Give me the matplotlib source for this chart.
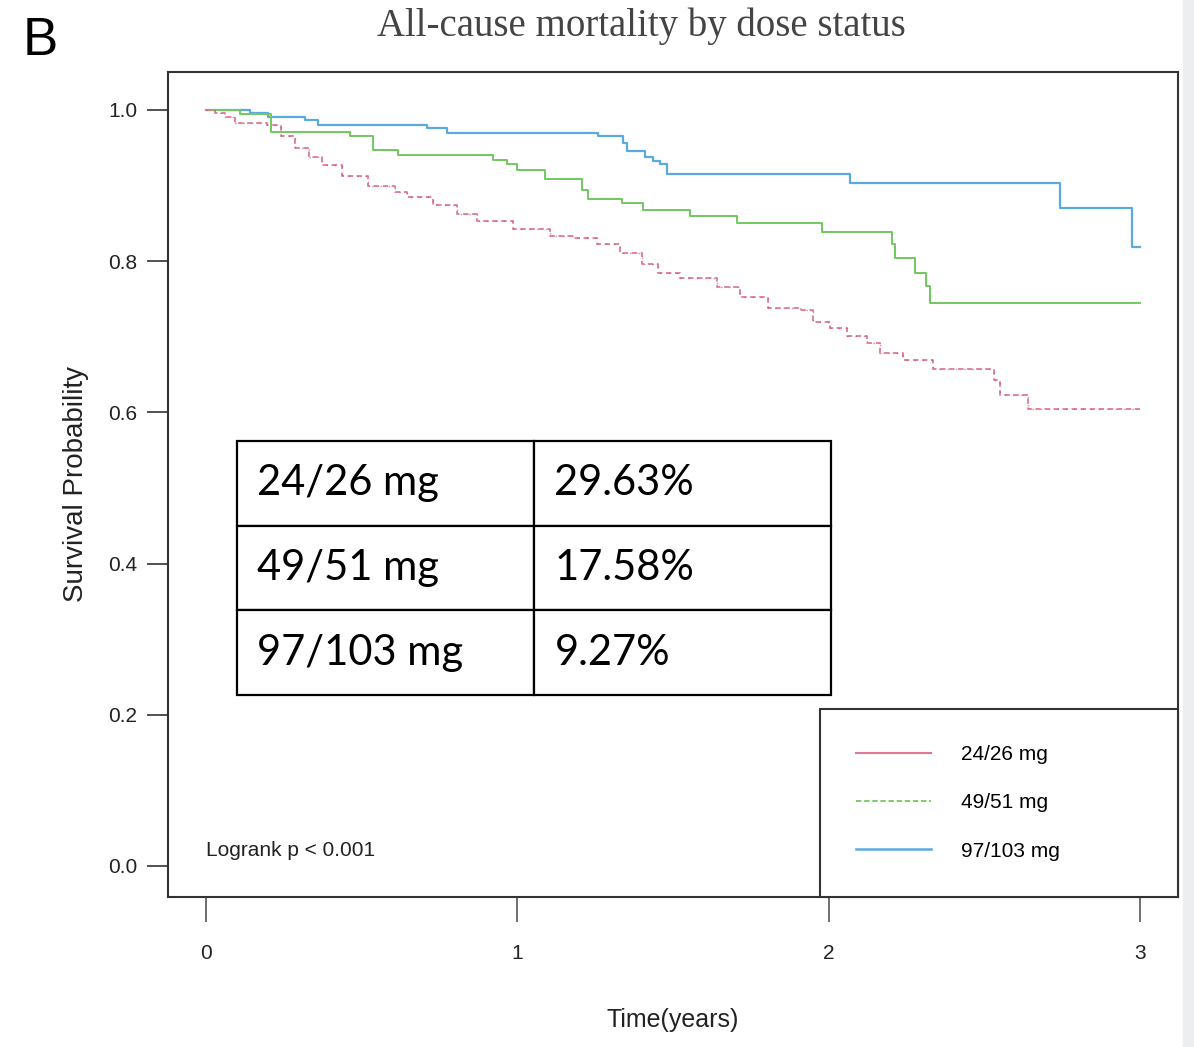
import matplotlib.pyplot as plt
from matplotlib.lines import Line2D
from matplotlib.patches import Rectangle

plt.rcParams['font.family'] = ['Liberation Sans', 'DejaVu Sans']

# Kaplan-Meier step points (time in years, survival)
t_low = [0, 0.03, 0.06, 0.093, 0.196, 0.24, 0.286, 0.33, 0.373, 0.437, 0.52, 0.607,
         0.646, 0.729, 0.806, 0.871, 0.986, 1.05, 1.105, 1.179, 1.256, 1.33,
         1.401, 1.452, 1.523, 1.642, 1.715, 1.805, 1.908, 1.95, 2.004, 2.059,
         2.123, 2.165, 2.239, 2.335, 2.531, 2.551, 2.641, 3.0]
s_low = [1.0, 0.996, 0.99, 0.983, 0.98, 0.965, 0.95, 0.938, 0.927, 0.913, 0.899, 0.892,
         0.885, 0.874, 0.862, 0.853, 0.843, 0.842, 0.833, 0.831, 0.822, 0.811,
         0.796, 0.784, 0.778, 0.766, 0.752, 0.738, 0.735, 0.72, 0.711, 0.701,
         0.691, 0.679, 0.669, 0.657, 0.643, 0.623, 0.604, 0.604]

t_mid = [0, 0.109, 0.209, 0.463, 0.537, 0.617, 0.922, 0.967, 0.999, 1.089, 1.208,
         1.227, 1.336, 1.404, 1.555, 1.706, 1.979, 2.204, 2.213, 2.278, 2.313,
         2.326, 3.0]
s_mid = [1.0, 0.994, 0.971, 0.965, 0.947, 0.94, 0.934, 0.928, 0.921, 0.909, 0.894,
         0.882, 0.877, 0.868, 0.86, 0.85, 0.839, 0.822, 0.804, 0.784, 0.767,
         0.745, 0.745]

t_high = [0, 0.141, 0.199, 0.318, 0.36, 0.709, 0.774, 1.259, 1.34, 1.353, 1.41,
          1.436, 1.458, 1.48, 2.068, 2.743, 2.974, 3.0]
s_high = [1.0, 0.996, 0.99, 0.987, 0.98, 0.976, 0.97, 0.965, 0.956, 0.946, 0.938,
          0.933, 0.929, 0.915, 0.903, 0.87, 0.819, 0.819]

labels = ['24/26 mg', '49/51 mg', '97/103 mg']
mortality = ['29.63%', '17.58%', '9.27%']
colors = ['#e07a92', '#72c85e', '#5aa9df']

fig = plt.figure(figsize=(11.94, 10.47), dpi=100)
fig.patches.append(Rectangle((0.991, 0), 0.009, 1, transform=fig.transFigure,
                             color='#eceef0', zorder=0))
ax = fig.add_axes([0.1407, 0.1433, 0.8459, 0.7879])

ax.plot(t_high, s_high, drawstyle='steps-post', color=colors[2], lw=1.6)
ax.plot(t_mid, s_mid, drawstyle='steps-post', color=colors[1], lw=1.4)
ax.plot(t_low, s_low, drawstyle='steps-post', color=colors[0], lw=1.3,
        linestyle=(0, (3, 2)))
ax.plot(t_low, s_low, drawstyle='steps-post', color='#9a5a6a', lw=1.0,
        linestyle=(0, (1, 5)), alpha=0.6)

ax.set_xlim(-0.122, 3.122)
ax.set_ylim(-0.041, 1.05)
ax.set_xticks([0, 1, 2, 3])
ax.set_yticks([0.0, 0.2, 0.4, 0.6, 0.8, 1.0])
ax.set_yticklabels(['0.0', '0.2', '0.4', '0.6', '0.8', '1.0'])
ax.tick_params(axis='y', length=15, width=1.2, color='#333333', pad=7,
               labelsize=15, labelcolor='#222222')
ax.tick_params(axis='x', length=18, width=1.2, color='#555555', pad=16,
               labelsize=15, labelcolor='#222222')
for s in ax.spines.values():
    s.set_linewidth(1.5)
    s.set_color('#333333')

ax.set_xlabel('Time(years)', fontsize=18, color='#222222', labelpad=32)
ax.set_ylabel('Survival Probability', fontsize=20, color='#222222', labelpad=14)

ax.text(0.0, 0.02, 'Logrank p < 0.001', fontsize=15, color='#222222',
        va='center', ha='left')

# result table
tbl = ax.table(cellText=[[labels[i], mortality[i]] for i in range(3)],
               cellLoc='left', bbox=[0.068, 0.2448, 0.5881, 0.3079])
tbl.auto_set_font_size(False)
for (r, c), cell in tbl.get_celld().items():
    cell.set_linewidth(1.6)
    cell.set_edgecolor('black')
    cell.PAD = 0.07
    cell.get_text().set_fontsize(30)
    cell.get_text().set_fontfamily('Lato')

handles = [Line2D([], [], color=colors[0], lw=1.5),
           Line2D([], [], color=colors[1], lw=1.3, linestyle=(0, (3, 1.5))),
           Line2D([], [], color=colors[2], lw=1.8)]
leg = ax.legend(handles, labels, loc='lower left', mode='expand',
                bbox_to_anchor=(0.6455, 0, 0.3545, 0.2303), borderaxespad=0,
                fancybox=False, edgecolor='#333333', framealpha=1, fontsize=15,
                handlelength=3.6, handletextpad=1.4, labelspacing=1.4,
                borderpad=1.75)
leg.get_frame().set_linewidth(1.5)

fig.text(0.537, 0.975, 'All-cause mortality by dose status', ha='center',
         va='center', fontsize=28, family='Liberation Serif', color='#444444')
fig.text(0.034, 0.961, 'B', ha='center', va='center', fontsize=38,
         family='Liberation Sans', color='black')

fig.savefig('out.png', dpi=100)
